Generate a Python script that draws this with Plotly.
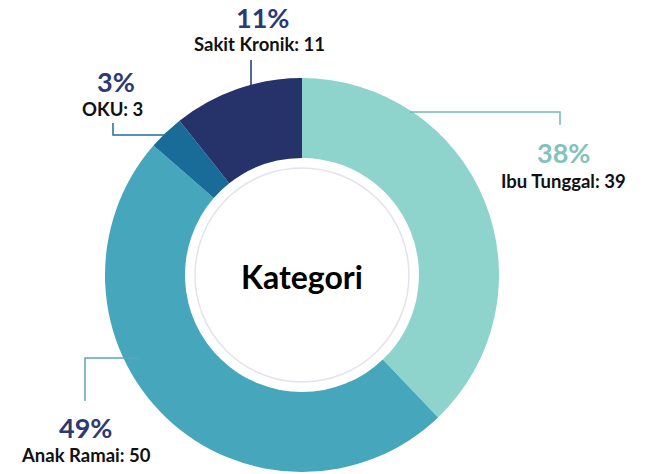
import plotly.graph_objects as go

# ---- data ----
categories = ["Ibu Tunggal", "Anak Ramai", "OKU", "Sakit Kronik"]
values = [39, 50, 3, 11]

# ---- styles ----
slice_colors = ["#8fd3cd", "#45a6bc", "#1a6c98", "#25336a"]
pct_colors = ["#83c2bb", "#2b3a73", "#2b3a73", "#2b3a73"]
line_colors = ["#73bab4", "#5aa6b8", "#1f6f94", "#25336a"]

W, H = 651, 474
OFF = 0  # body margin removed via post_script
CX, CY, R = 302, 275, 197
FONT = "Lato"


def px(x):
    return (x - OFF) / W


def py(y):
    return 1 - (y - OFF) / H


# label layout: (pct text center, label center, leader polyline) in page pixels
label_layout = {
    "Ibu Tunggal": ((563, 152), (563, 181), [(410, 112), (560, 112), (560, 125)]),
    "Anak Ramai": ((85, 427), (86, 455), [(138, 358), (85, 358), (85, 401)]),
    "OKU": ((116, 81), (113, 109), [(113, 123), (113, 135), (165, 135)]),
    "Sakit Kronik": ((262, 18), (259, 44), [(251, 60), (251, 86)]),
}

fig = go.Figure()
fig.add_trace(go.Pie(
    labels=categories,
    values=values,
    sort=False,
    direction="clockwise",
    rotation=0,
    hole=0.594,
    marker=dict(colors=slice_colors, line=dict(width=0)),
    textinfo="none",
    hoverinfo="label+value+percent",
    showlegend=False,
    domain=dict(x=[px(CX - R), px(CX + R)], y=[py(CY + R), py(CY - R)]),
))

total = sum(values)
annotations = []
shapes = []
for cat, val, pc, lc in zip(categories, values, pct_colors, line_colors):
    (pxx, pyy), (lx, ly), pts = label_layout[cat]
    pct = round(val / total * 100)
    annotations.append(dict(
        x=px(pxx), y=py(pyy), xref="paper", yref="paper",
        text=f"<b>{pct}%</b>", showarrow=False,
        font=dict(family=FONT, size=27, color=pc),
        xanchor="center", yanchor="middle",
    ))
    annotations.append(dict(
        x=px(lx), y=py(ly), xref="paper", yref="paper",
        text=f"<b>{cat}: {val}</b>", showarrow=False,
        font=dict(family=FONT, size=18.5, color="#111111"),
        xanchor="center", yanchor="middle",
    ))
    path = "M " + " L ".join(f"{px(x)},{py(y)}" for x, y in pts)
    shapes.append(dict(type="path", path=path, xref="paper", yref="paper",
                       line=dict(color=lc, width=1.5)))

# inner decorative ring
RI = 107
shapes.append(dict(type="circle", xref="paper", yref="paper",
                   x0=px(CX - RI), x1=px(CX + RI), y0=py(CY + RI), y1=py(CY - RI),
                   line=dict(color="#e3e3ec", width=1.5)))

annotations.append(dict(
    x=px(CX), y=py(CY + 1), xref="paper", yref="paper",
    text="<b>Kategori</b>", showarrow=False,
    font=dict(family=FONT, size=32, color="#000000"),
    xanchor="center", yanchor="middle",
))

fig.update_layout(
    width=W, height=H, autosize=False,
    margin=dict(l=0, r=0, t=0, b=0),
    paper_bgcolor="white", plot_bgcolor="white",
    annotations=annotations, shapes=shapes,
)

fig.write_html("out.html",
               config={"displayModeBar": False},
               post_script="document.body.style.margin='0';document.body.style.overflow='hidden';")
